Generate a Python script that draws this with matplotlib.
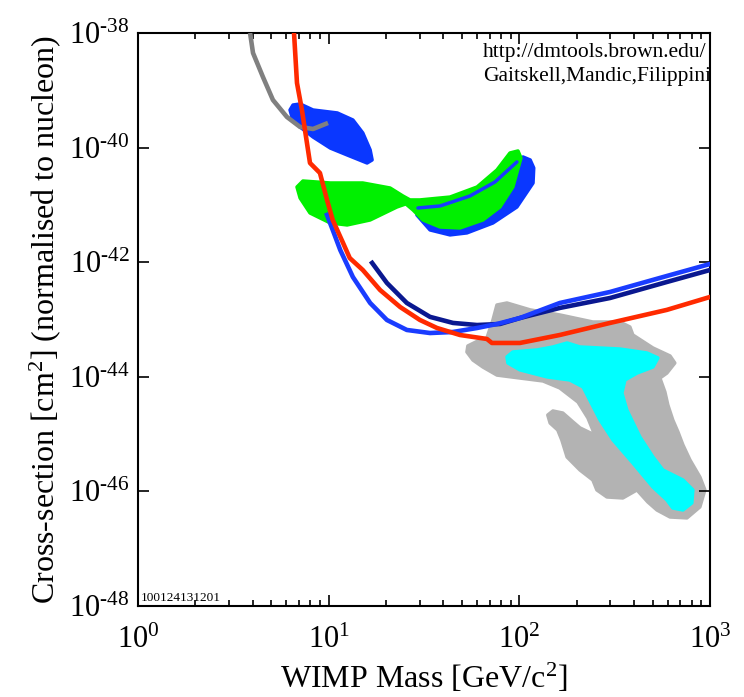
import numpy as np
import matplotlib
matplotlib.use('Agg')
import matplotlib.pyplot as plt
from matplotlib.ticker import FixedLocator, NullLocator, LogLocator

plt.rcParams['font.family'] = ['Liberation Serif', 'DejaVu Serif']
plt.rcParams['mathtext.fontset'] = 'custom'
plt.rcParams['mathtext.rm'] = 'Liberation Serif'
plt.rcParams['mathtext.it'] = 'Liberation Serif:italic'

# limit curves: WIMP mass [GeV], cross-section [cm^2]
red_mass = [6.58, 6.82, 7.24, 7.98, 9.0, 9.8, 10.5, 11.9, 12.9, 15.1, 18.6, 23.7, 30.1,
            37.0, 48.8, 67.6, 71.8, 100.7, 163, 299, 594, 1000]
red_sigma = [1.0e-38, 1.34e-39, 4.53e-40, 5.38e-41, 3.6e-41, 1.22e-41, 5.45e-42, 2.16e-42,
             1.18e-42, 7.3e-43, 3.27e-43, 1.65e-43, 9.8e-44, 7.1e-44, 5.36e-44, 4.57e-44,
             3.89e-44, 3.89e-44, 5.36e-44, 8.7e-44, 1.47e-43, 2.47e-43]

blue_mass = [9.8, 10.5, 11.5, 13.4, 16.5, 20.2, 25.7, 34.0, 44.9, 60.0, 76.3, 100.7, 163, 299, 594, 1000]
blue_sigma = [6.67e-42, 3.65e-42, 1.63e-42, 5.5e-43, 1.94e-43, 9.8e-44, 6.56e-44, 5.8e-44,
              6.05e-44, 7.1e-44, 8.34e-44, 1.06e-43, 1.94e-43, 3.02e-43, 5.74e-43, 9.3e-43]

navy_mass = [16.9, 20.2, 25.7, 34.0, 44.9, 60.0, 79.1, 100.7, 163, 299, 594, 1000]
navy_sigma = [9.7e-43, 4.34e-43, 1.94e-43, 1.11e-43, 8.7e-44, 8.0e-44, 8.34e-44, 1.06e-43,
              1.59e-43, 2.37e-43, 4.51e-43, 7.3e-43]

gray_mass = [3.87, 4.01, 4.52, 5.1, 6.04, 7.08, 8.28, 9.92]
gray_sigma = [1.0e-38, 4.48e-39, 1.71e-39, 6.78e-40, 3.42e-40, 2.29e-40, 2.11e-40, 2.69e-40]

# allowed regions (closed contours)
blueA_mass = [6.27, 6.5, 7.08, 8.28, 11.1, 13.4, 15.1, 16.5, 16.9, 15.9, 12.5, 10.2, 8.28, 7.08, 6.42]
blueA_sigma = [4.53e-40, 5.53e-40, 5.77e-40, 4.53e-40, 4.02e-40, 3.03e-40, 1.8e-40, 9.1e-41,
               6.08e-41, 5.38e-41, 7.43e-41, 9.8e-41, 1.53e-40, 2.29e-40, 3.42e-40]

blueB_mass = [104.5, 114, 119, 118, 97.1, 72.7, 53.1, 43.3, 34.0, 29.0, 38.4, 62.1, 89.3]
blueB_sigma = [6.86e-41, 6.08e-41, 4.41e-41, 2.41e-41, 9.18e-42, 4.83e-42, 3.24e-42, 2.99e-42,
               3.65e-42, 6.67e-42, 8.15e-42, 1.49e-41, 4.06e-41]

green_mass = [6.82, 7.33, 10.2, 15.1, 21.0, 24.5, 26.7, 30.1, 43.3, 60.0, 76.3, 89.3, 98.4, 102,
              92.5, 79.1, 64.4, 48.8, 38.4, 31.2, 27.7, 25.4, 22.8, 16.5, 12.5, 10.2, 7.98, 7.08]
green_sigma = [2.05e-41, 2.61e-41, 2.41e-41, 2.41e-41, 1.97e-41, 1.43e-41, 1.22e-41, 1.22e-41,
               1.37e-41, 2.05e-41, 4.06e-41, 8.05e-41, 8.73e-41, 6.58e-41, 2.05e-41, 9.18e-42,
               5.45e-42, 3.95e-42, 4.11e-42, 5.45e-42, 8.15e-42, 1.04e-41, 9.18e-42, 5.45e-42,
               4.46e-42, 4.83e-42, 7.22e-42, 1.32e-41]

blueline_mass = [29.4, 38.4, 55.1, 74.5, 97.1]
blueline_sigma = [8.83e-42, 9.57e-42, 1.43e-41, 2.51e-41, 5.61e-41]

grayreg_mass = [67.6, 72.7, 76.3, 86.1, 114, 163, 243, 337, 380, 394, 502, 617, 654, 594, 546,
                580, 601, 638, 679, 721, 785, 885, 940, 885, 757, 617, 527, 472, 414, 349, 288,
                255, 243, 208, 178, 167, 159, 145, 141, 150, 169, 191, 208, 249, 229, 203, 163,
                133, 100.7, 76.3, 64.4, 57.1, 53.1, 53.7, 60.7]
grayreg_sigma = [4.75e-44, 9.8e-44, 1.79e-43, 1.94e-43, 1.47e-43, 1.2e-43, 9.04e-44, 9.04e-44,
                 7.4e-44, 5.36e-44, 3.18e-44, 2.31e-44, 1.74e-44, 1.16e-44, 9.5e-45, 5.43e-45,
                 3.22e-45, 1.76e-45, 1.09e-45, 6.46e-46, 3.53e-46, 1.78e-46, 1.06e-46, 5.35e-47,
                 3.44e-47, 3.57e-47, 4.73e-47, 6.53e-47, 1.06e-46, 7.67e-47, 7.98e-47, 1.06e-46,
                 1.58e-46, 2.36e-46, 3.98e-46, 7.89e-46, 1.18e-45, 1.56e-45, 2.15e-45, 2.53e-45,
                 2.33e-45, 1.63e-45, 1.28e-45, 9.6e-46, 1.91e-45, 3.63e-45, 6.38e-45, 8.45e-45,
                 9.5e-45, 1.07e-44, 1.48e-44, 1.96e-44, 2.71e-44, 3.45e-44, 4.22e-44]

cyan_mass = [86.1, 92.5, 124, 150, 178, 208, 337, 467, 533, 502, 414, 358, 345, 366, 429, 502,
             566, 721, 813, 803, 721, 638, 594, 502, 394, 310, 265, 234, 216, 184, 140, 100.7, 87.1]
cyan_sigma = [2.22e-44, 2.71e-44, 2.94e-44, 3.31e-44, 3.89e-44, 3.31e-44, 3.05e-44, 2.6e-44,
              2.13e-44, 1.48e-44, 1.16e-44, 8.79e-45, 5.21e-45, 2.64e-45, 8.89e-46, 3.98e-46,
              2.36e-46, 1.58e-46, 1.06e-46, 6.28e-47, 4.73e-47, 5.13e-47, 7.08e-47, 1.19e-46,
              3.13e-46, 7.89e-46, 1.76e-45, 3.94e-45, 6.64e-45, 8.79e-45, 9.93e-45, 1.32e-44, 1.74e-44]

xticks = [1, 10, 100, 1000]
xticklabels = ['0', '1', '2', '3']
yticks = [1e-48, 1e-46, 1e-44, 1e-42, 1e-40, 1e-38]
yticklabels = ['48', '46', '44', '42', '40', '38']

fig = plt.figure(figsize=(7.44, 6.97), dpi=100)
ax = fig.add_axes([0.1855, 0.1306, 0.7688, 0.8221])
ax.set_xscale('log')
ax.set_yscale('log')

def region(m, s, color):
    ax.fill(m, s, facecolor=color, edgecolor=color, linewidth=2.5, joinstyle='round', zorder=1)

region(grayreg_mass, grayreg_sigma, '#b3b3b3')
region(cyan_mass, cyan_sigma, '#00ffff')
region(blueA_mass, blueA_sigma, '#0a37ff')
region(blueB_mass, blueB_sigma, '#0a37ff')
region(green_mass, green_sigma, '#00f000')
ax.plot(blueline_mass, blueline_sigma, color='#1a3cff', lw=2.5, solid_capstyle='round', zorder=2)

ax.plot(gray_mass, gray_sigma, color='#808080', lw=3.3, solid_capstyle='butt', zorder=3)
ax.plot(navy_mass, navy_sigma, color='#0a1890', lw=3.3, zorder=3)
ax.plot(blue_mass, blue_sigma, color='#1a3cff', lw=3.3, zorder=3)
ax.plot(red_mass, red_sigma, color='#ff2a00', lw=3.3, zorder=4)

ax.set_xlim(1, 1000)
ax.set_ylim(1e-48, 1e-38)

ax.xaxis.set_major_locator(FixedLocator(xticks))
ax.xaxis.set_minor_locator(LogLocator(base=10, subs=np.arange(2, 10)))
ax.xaxis.set_minor_formatter(plt.NullFormatter())
ax.set_xticklabels(['$\\mathregular{10^{%s}}$' % t for t in xticklabels])
ax.yaxis.set_major_locator(FixedLocator(yticks))
ax.yaxis.set_minor_locator(NullLocator())
ax.set_yticklabels(['$\\mathregular{10^{\\text{-}%s}}$' % t for t in yticklabels])

ax.tick_params(which='both', direction='in', top=True, right=True, labelsize=22, width=1.2)
ax.tick_params(which='major', length=8, pad=6)
ax.tick_params(axis='x', which='major', pad=14)
ax.tick_params(which='minor', length=4)
for sp in ax.spines.values():
    sp.set_linewidth(1.5)

ax.set_xlabel('WIMP Mass [GeV/c$^\\mathregular{2}$]', fontsize=23, labelpad=5)
ax.set_ylabel('Cross-section [cm$^\\mathregular{2}$] (normalised to nucleon)', fontsize=23, labelpad=4)

ax.text(0.603, 0.983, 'http://dmtools.brown.edu/', transform=ax.transAxes, fontsize=15.5,
        va='top', ha='left', clip_on=True)
ax.text(0.603, 0.94, 'Gaitskell,Mandic,Filippini', transform=ax.transAxes, fontsize=15.5,
        va='top', ha='left', clip_on=True)
ax.text(0.004, 0.003, '100124131201', transform=ax.transAxes, fontsize=9.5,
        va='bottom', ha='left')

fig.savefig('out.png', dpi=100)
